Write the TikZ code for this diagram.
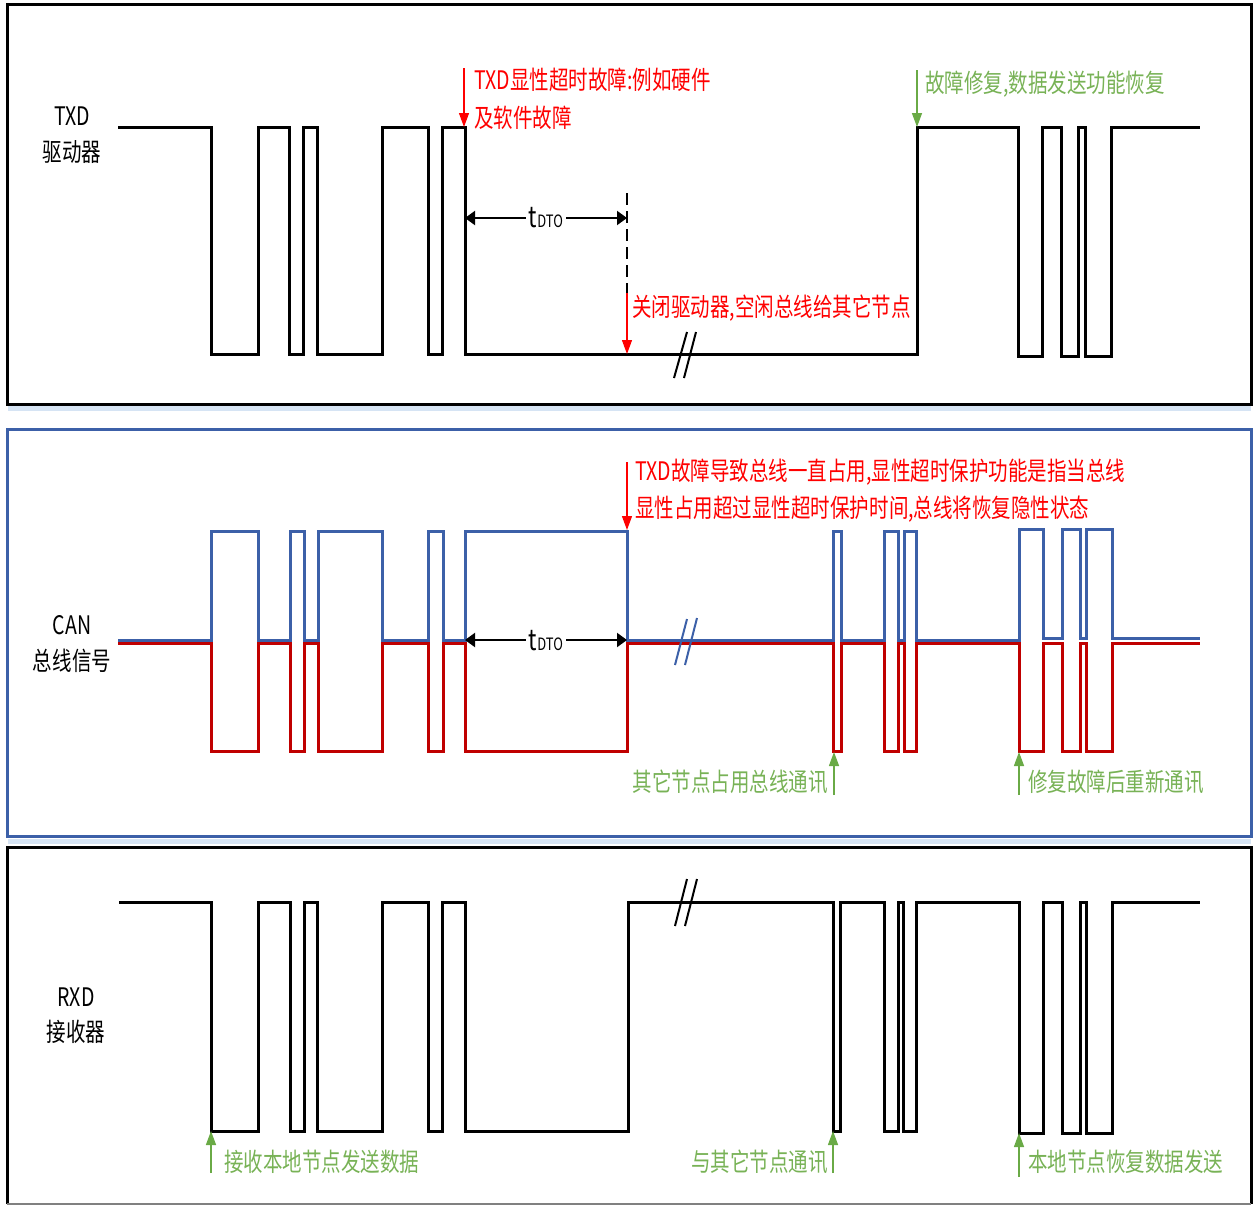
\documentclass[tikz,border=0pt]{standalone}
\usepackage{fontspec}
\newfontfamily\cjk[FakeStretch=0.765]{Noto Sans CJK SC}
\usetikzlibrary{arrows.meta}
\definecolor{canblue}{RGB}{60,96,168}
\definecolor{canred}{RGB}{192,0,0}
\definecolor{notegreen}{RGB}{120,178,86}
\definecolor{arrowgreen}{RGB}{106,170,70}
\definecolor{panelshade}{RGB}{214,228,244}
\tikzset{
    every node/.style={font=\cjk\fontsize{12.75}{15}\selectfont, inner sep=0pt}
}
\tikzset{
    sig/.style={line width=1.5pt, line join=miter},
    frame/.style={line width=1.5pt},
    brk/.style={line width=1pt},
    faultarrow/.style={red, line width=0.6pt, -{Triangle[length=7pt,width=5pt]}},
    okarrow/.style={arrowgreen, line width=0.7pt, -{Triangle[length=7pt,width=5pt]}},
    dimarrow/.style={line width=1pt, {Triangle[length=5pt,width=7pt]}-{Triangle[length=5pt,width=7pt]}},
    rednote/.style={text=red},
    greennote/.style={text=notegreen}
}

\begin{document}
\begin{tikzpicture}[x=0.5pt, y=-0.5pt]
	\useasboundingbox (0,0) rectangle (1253,1205);
	\draw[panelshade, line width=2.5pt] (8,408) -- (1251,408);
	\draw[panelshade, line width=2.5pt] (8,841) -- (1251,841);
	\draw[frame] (7,4) rectangle (1251,404);
	\draw[frame, canblue] (7,429) rectangle (1251,836);
	\draw[frame] (7,1204) -- (7,847) -- (1251,847) -- (1251,1204);
	\draw[gray, line width=1pt] (7,1204) -- (1251,1204);

	\node (txd) at (72,116) {TXD};
	\node (txddrv) at (72,152) {驱动器};
	\node (can) at (72,625) {CAN};
	\node (canbus) at (72,661) {总线信号};
	\node (rxd) at (76,997) {RXD};
	\node (rxdrcv) at (76,1032) {接收器};

	\draw[sig] (118,127) -| (211,354) -| (258,127) -| (289,354) -| (303,127) -| (317,354)
		-| (382,127) -| (428,354) -| (442,127) -| (465,354) -| (917,127) -| (1018,356)
		-| (1042,127) -| (1061,356) -| (1078,127) -| (1085,356) -| (1111,127) -- (1200,127);
	\draw[brk] (674,378) -- (687,332); \draw[brk] (684,378) -- (696,332);

	\draw[sig, canred] (118,643) -| (211,751) -| (258,643) -| (290,751) -| (304,643) -| (318,751)
		-| (382,643) -| (428,751) -| (443,643) -| (465,751) -| (627,643) -| (833,751)
		-| (841,643) -| (884,751) -| (898,643) -| (904,751) -| (916,643) -| (1019,751)
		-| (1043,643) -| (1062,751) -| (1080,643) -| (1086,751) -| (1112,643) -- (1200,643);
	\draw[sig, canblue] (118,640) -| (211,531) -| (258,640) -| (290,531) -| (304,640) -| (318,531)
		-| (382,640) -| (428,531) -| (443,640) -| (465,531) -| (627,640) -| (833,531)
		-| (841,640) -| (884,531) -| (898,640) -| (904,531) -| (916,640) -| (1019,529)
		-| (1043,638) -| (1062,529) -| (1080,638) -| (1086,529) -| (1112,638) -- (1200,638);
	\draw[brk, canblue] (675,665) -- (687,619); \draw[brk, canblue] (685,665) -- (697,618);

	\draw[sig] (119,902) -| (211,1131) -| (258,902) -| (290,1131) -| (304,902) -| (317,1131)
		-| (382,902) -| (428,1131) -| (442,902) -| (465,1131) -| (628,902) -| (833,1131)
		-| (840,902) -| (884,1131) -| (898,902) -| (903,1131) -| (916,902) -| (1019,1133)
		-| (1043,902) -| (1062,1133) -| (1080,902) -| (1086,1133) -| (1112,902) -- (1200,902);
	\draw[brk] (675,926) -- (687,879); \draw[brk] (685,926) -- (697,879);

	\coordinate (fault0) at (464,68);
	\coordinate (fault1) at (464,127);
	\draw[faultarrow] (fault0) -- (fault1);
	\node[rednote, anchor=west] (fault2) at (474,80) {TXD显性超时故障:例如硬件};
	\node[rednote, anchor=west] (fault3) at (474,118) {及软件故障};

	\coordinate (dto0) at (465,218);
	\coordinate (dto1) at (627,218);
	\draw[dimarrow] (dto0) -- (dto1);
	\node[fill=white, inner xsep=1.5pt] (dto2) at (546,218) {{\fontsize{14.5}{15}\selectfont t}{\fontsize{8.5}{9}\selectfont DTO}};

	\coordinate (off0) at (627,193);
	\coordinate (off1) at (627,293);
	\coordinate (off2) at (627,354);
	\draw[dash pattern=on 6pt off 3pt, line width=0.6pt] (off0) -- (off1);
	\draw[faultarrow] (off1) -- (off2);
	\node[rednote, anchor=west] (off3) at (632,308) {关闭驱动器,空闲总线给其它节点};

	\coordinate (fix0) at (917,70);
	\coordinate (fix1) at (917,127);
	\draw[okarrow] (fix0) -- (fix1);
	\node[greennote, anchor=west] (fix2) at (925,84) {故障修复,数据发送功能恢复};

	\coordinate (bus0) at (627,462);
	\coordinate (bus1) at (627,530);
	\draw[faultarrow] (bus0) -- (bus1);
	\node[rednote, anchor=west] (bus2) at (635,472) {TXD故障导致总线一直占用,显性超时保护功能是指当总线};
	\node[rednote, anchor=west] (bus3) at (635,509) {显性占用超过显性超时保护时间,总线将恢复隐性状态};

	\coordinate (dto3) at (465,640);
	\coordinate (dto4) at (627,640);
	\draw[dimarrow] (dto3) -- (dto4);
	\node[fill=white, inner xsep=1.5pt] (dto5) at (546,641) {{\fontsize{14.5}{15}\selectfont t}{\fontsize{8.5}{9}\selectfont DTO}};

	\coordinate (other0) at (834,795);
	\coordinate (other1) at (834,752);
	\draw[okarrow] (other0) -- (other1);
	\node[greennote, anchor=east] (other2) at (828,782) {其它节点占用总线通讯};

	\coordinate (again0) at (1019,795);
	\coordinate (again1) at (1019,752);
	\draw[okarrow] (again0) -- (again1);
	\node[greennote, anchor=west] (again2) at (1028,782) {修复故障后重新通讯};

	\coordinate (rcv0) at (211,1173);
	\coordinate (rcv1) at (211,1131);
	\draw[okarrow] (rcv0) -- (rcv1);
	\node[greennote, anchor=west] (rcv2) at (224,1162) {接收本地节点发送数据};

	\coordinate (talk0) at (833,1173);
	\coordinate (talk1) at (833,1131);
	\draw[okarrow] (talk0) -- (talk1);
	\node[greennote, anchor=east] (talk2) at (828,1162) {与其它节点通讯};

	\coordinate (back0) at (1019,1177);
	\coordinate (back1) at (1019,1133);
	\draw[okarrow] (back0) -- (back1);
	\node[greennote, anchor=west] (back2) at (1028,1162) {本地节点恢复数据发送};
\end{tikzpicture}
\end{document}
